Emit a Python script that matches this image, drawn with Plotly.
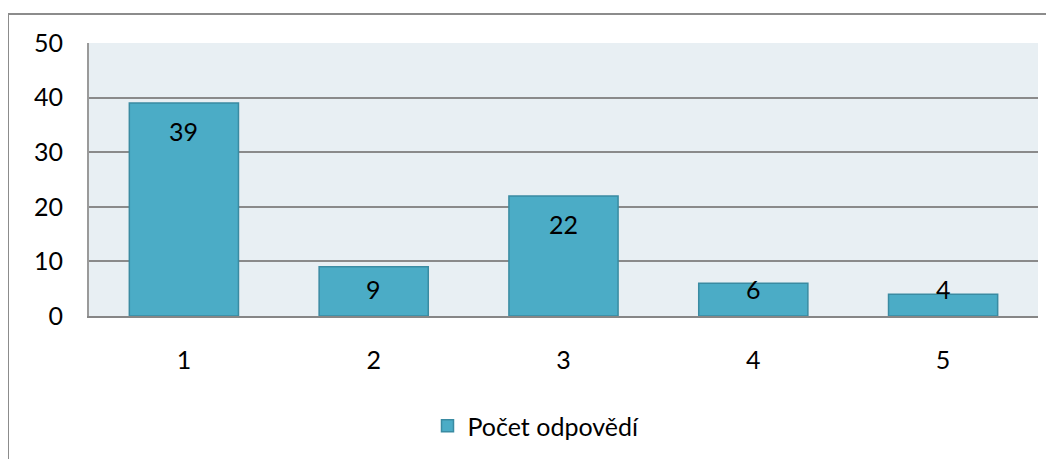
import plotly.graph_objects as go

categories = ["1", "2", "3", "4", "5"]
values = [39, 9, 22, 6, 4]
series_name = "Počet odpovědí"
y_ticks = [0, 10, 20, 30, 40, 50]

# page has an 8px body margin; figure is sized to compensate
OFF = 8
W, H = 1054 - OFF, 459 - OFF
L, R, T, B = 89 - OFF, 16, 43 - OFF, 459 - 316
plot_h = H - T - B
plot_w = W - L - R
ymax = 50
px_per_unit = plot_h / ymax

FONT = "Lato"
FS = 25
fig = go.Figure()
fig.add_trace(go.Bar(
    x=categories, y=values, name=series_name,
    marker=dict(color="#4BACC6", line=dict(color="#3A8BA2", width=1.5)),
    width=0.575, showlegend=True,
))

# data labels at "inside end", clamped near the base for short bars
for i, v in enumerate(values):
    top_px = v * px_per_unit
    center_px = max(top_px - 28, 27)
    fig.add_annotation(x=i, y=0, yref="y", xref="x", text=str(v), showarrow=False,
                       yshift=center_px, yanchor="middle",
                       font=dict(family=FONT, size=FS, color="#000000"))

# outer chart border (cropped on right/bottom)
xl = (8 - OFF - L) / plot_w
yt = (H - B - (14 - OFF)) / plot_h
fig.add_shape(type="line", xref="paper", yref="paper", x0=xl, x1=xl, y0=-1, y1=yt,
              line=dict(color="#8C8C8C", width=2))
fig.add_shape(type="line", xref="paper", yref="paper", x0=xl, x1=1.2, y0=yt, y1=yt,
              line=dict(color="#8C8C8C", width=2))

fig.update_layout(
    width=W, height=H,
    margin=dict(l=L, r=R, t=T, b=B, autoexpand=False),
    paper_bgcolor="white",
    plot_bgcolor="#E8EFF3",
    font=dict(family=FONT, size=FS, color="#000000"),
    bargap=0.425,
    legend=dict(orientation="h", x=(536 - OFF - L) / plot_w, xanchor="center",
                y=(316 - 426) / plot_h, yanchor="middle",
                font=dict(family=FONT, size=FS), itemwidth=30),
    showlegend=True,
)
fig.update_xaxes(type="category", showgrid=False, showline=True, linecolor="#868686", linewidth=2,
                 ticks="outside", ticklen=21, tickcolor="rgba(0,0,0,0)", automargin=False,
                 tickfont=dict(family=FONT, size=FS))
fig.update_yaxes(range=[0, ymax], tickvals=y_ticks, showgrid=True, gridcolor="#8A8A8A",
                 gridwidth=1.5, showline=True, linecolor="#9A9A9A", linewidth=2,
                 zeroline=False, ticks="outside", ticklen=19, tickcolor="rgba(0,0,0,0)",
                 automargin=False, tickfont=dict(family=FONT, size=FS))

fig.write_html("out.html")
